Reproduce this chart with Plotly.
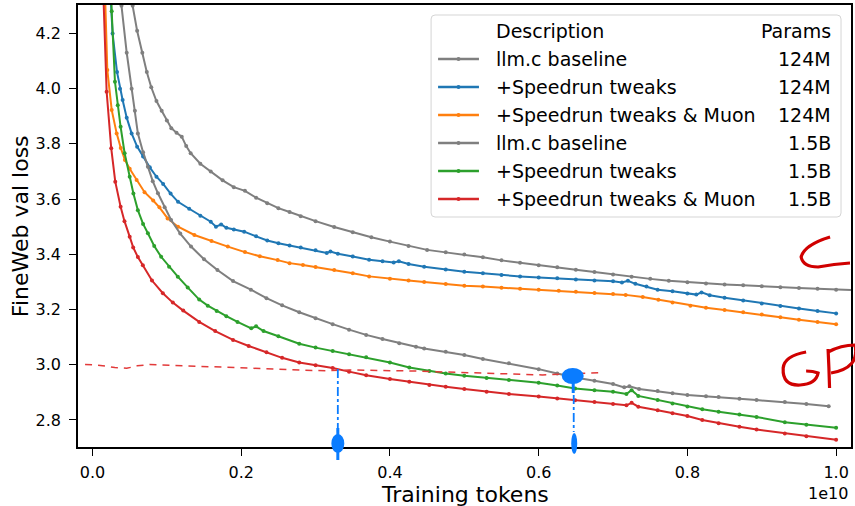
import plotly.graph_objects as go

# ---------------- data (x in units of 1e10 training tokens) ----------------
gray124_x = [0.046, 0.054, 0.060, 0.067, 0.073, 0.079, 0.086, 0.093, 0.100, 0.106, 0.113, 0.120, 0.126, 0.132,
             0.145, 0.159, 0.175, 0.190, 0.205, 0.220, 0.235, 0.250, 0.265, 0.280, 0.300, 0.325, 0.350, 0.375,
             0.400, 0.425, 0.450, 0.475, 0.500, 0.525, 0.550, 0.575, 0.600, 0.625, 0.650, 0.675, 0.700, 0.725,
             0.750, 0.775, 0.800, 0.825, 0.850, 0.875, 0.900, 0.925, 0.950, 0.975, 1.000, 1.025]
gray124_y = [4.50, 4.30, 4.21, 4.13, 4.06, 4.005, 3.955, 3.92, 3.885, 3.857, 3.840, 3.826, 3.792, 3.766,
             3.728, 3.70, 3.668, 3.643, 3.63, 3.605, 3.585, 3.567, 3.553, 3.538, 3.52, 3.499, 3.48, 3.462,
             3.446, 3.43, 3.416, 3.407, 3.399, 3.389, 3.378, 3.369, 3.36, 3.353, 3.344, 3.336, 3.327, 3.319,
             3.311, 3.304, 3.299, 3.294, 3.291, 3.288, 3.284, 3.281, 3.278, 3.275, 3.272, 3.27]

blue124_x = [0.022, 0.027, 0.033, 0.037, 0.0405, 0.046, 0.0526, 0.060, 0.068, 0.077, 0.086, 0.095, 0.105, 0.115,
             0.130, 0.145, 0.159, 0.166, 0.173, 0.180, 0.190, 0.204, 0.220, 0.235, 0.250, 0.265, 0.280, 0.300,
             0.315, 0.320, 0.330, 0.350, 0.372, 0.390, 0.405, 0.412, 0.425, 0.446, 0.475, 0.500, 0.525, 0.550,
             0.575, 0.600, 0.625, 0.650, 0.675, 0.700, 0.712, 0.720, 0.730, 0.745, 0.760, 0.780, 0.800, 0.812,
             0.819, 0.830, 0.850, 0.875, 0.900, 0.925, 0.950, 0.975, 1.000]
blue124_y = [4.45, 4.20, 4.06, 4.00, 3.959, 3.895, 3.838, 3.79, 3.754, 3.715, 3.681, 3.655, 3.62, 3.59,
             3.565, 3.54, 3.518, 3.50, 3.508, 3.496, 3.49, 3.482, 3.465, 3.45, 3.44, 3.432, 3.425, 3.415,
             3.405, 3.41, 3.402, 3.392, 3.38, 3.375, 3.37, 3.375, 3.365, 3.355, 3.345, 3.337, 3.331, 3.325,
             3.32, 3.316, 3.313, 3.309, 3.305, 3.302, 3.298, 3.304, 3.293, 3.283, 3.272, 3.266, 3.258, 3.254,
             3.262, 3.252, 3.243, 3.233, 3.222, 3.213, 3.204, 3.195, 3.186]

orange124_x = [0.014, 0.0199, 0.0258, 0.0325, 0.038, 0.0436, 0.050, 0.0593, 0.070, 0.0816, 0.090, 0.101, 0.115,
               0.137, 0.160, 0.182, 0.205, 0.225, 0.249, 0.265, 0.283, 0.300, 0.325, 0.350, 0.372, 0.400, 0.425,
               0.446, 0.475, 0.500, 0.525, 0.550, 0.575, 0.600, 0.627, 0.650, 0.675, 0.700, 0.717, 0.740, 0.761,
               0.780, 0.804, 0.825, 0.850, 0.875, 0.900, 0.925, 0.950, 0.975, 1.000]
orange124_y = [4.60, 4.068, 3.923, 3.838, 3.785, 3.742, 3.71, 3.669, 3.625, 3.595, 3.57, 3.53, 3.50,
               3.47, 3.448, 3.428, 3.408, 3.393, 3.379, 3.368, 3.361, 3.354, 3.343, 3.331, 3.32, 3.311, 3.305,
               3.30, 3.292, 3.286, 3.283, 3.279, 3.275, 3.272, 3.268, 3.264, 3.26, 3.256, 3.253, 3.245, 3.235,
               3.225, 3.214, 3.206, 3.198, 3.19, 3.182, 3.172, 3.163, 3.155, 3.147]

gray15_x = [0.033, 0.039, 0.046, 0.0526, 0.057, 0.061, 0.068, 0.0745, 0.081, 0.088, 0.097, 0.1057, 0.118, 0.1325,
            0.150, 0.168, 0.189, 0.213, 0.234, 0.255, 0.278, 0.300, 0.323, 0.345, 0.368, 0.390, 0.4125, 0.435,
            0.446, 0.475, 0.500, 0.525, 0.560, 0.600, 0.625, 0.649, 0.675, 0.700, 0.715, 0.722, 0.735, 0.760,
            0.780, 0.800, 0.825, 0.842, 0.870, 0.893, 0.931, 0.960, 0.990]
gray15_y = [4.60, 4.30, 4.13, 4.00, 3.92, 3.838, 3.77, 3.717, 3.665, 3.621, 3.57, 3.524, 3.475, 3.428,
            3.382, 3.343, 3.303, 3.272, 3.241, 3.215, 3.19, 3.168, 3.147, 3.127, 3.108, 3.093, 3.078, 3.065,
            3.059, 3.047, 3.035, 3.021, 3.005, 2.984, 2.968, 2.954, 2.942, 2.93, 2.918, 2.922, 2.912, 2.905,
            2.897, 2.89, 2.886, 2.883, 2.877, 2.872, 2.865, 2.858, 2.85]

green15_x = [0.021, 0.0258, 0.0302, 0.034, 0.0378, 0.0432, 0.050, 0.055, 0.061, 0.068, 0.0745, 0.083, 0.0923,
             0.103, 0.1147, 0.128, 0.1435, 0.155, 0.167, 0.180, 0.195, 0.2135, 0.220, 0.230, 0.250, 0.278,
             0.300, 0.323, 0.345, 0.368, 0.400, 0.426, 0.453, 0.475, 0.500, 0.530, 0.560, 0.600, 0.625, 0.649,
             0.675, 0.700, 0.718, 0.725, 0.734, 0.760, 0.780, 0.800, 0.820, 0.842, 0.870, 0.893, 0.931, 0.960,
             1.000]
green15_y = [4.70, 4.28, 4.025, 3.94, 3.862, 3.766, 3.681, 3.62, 3.56, 3.51, 3.476, 3.43, 3.391,
             3.355, 3.319, 3.28, 3.236, 3.214, 3.195, 3.176, 3.155, 3.132, 3.139, 3.122, 3.103, 3.076,
             3.062, 3.05, 3.038, 3.027, 3.008, 2.99, 2.977, 2.968, 2.96, 2.952, 2.945, 2.935, 2.925, 2.914,
             2.908, 2.902, 2.894, 2.908, 2.887, 2.872, 2.86, 2.849, 2.839, 2.83, 2.82, 2.811, 2.792, 2.783,
             2.772]

red15_x = [0.0095, 0.019, 0.0252, 0.0306, 0.0378, 0.043, 0.050, 0.0547, 0.061, 0.0677, 0.080, 0.0946, 0.108,
           0.122, 0.1435, 0.165, 0.189, 0.210, 0.234, 0.255, 0.278, 0.300, 0.323, 0.345, 0.368, 0.400, 0.426,
           0.453, 0.475, 0.500, 0.530, 0.560, 0.600, 0.625, 0.649, 0.675, 0.700, 0.718, 0.725, 0.734, 0.760,
           0.780, 0.800, 0.820, 0.842, 0.870, 0.893, 0.931, 0.960, 1.000]
red15_y = [4.75, 3.989, 3.784, 3.663, 3.572, 3.52, 3.464, 3.425, 3.39, 3.36, 3.305, 3.259, 3.225,
           3.196, 3.155, 3.122, 3.09, 3.068, 3.045, 3.025, 3.008, 2.998, 2.988, 2.975, 2.962, 2.948, 2.938,
           2.927, 2.92, 2.912, 2.902, 2.894, 2.885, 2.878, 2.871, 2.865, 2.858, 2.853, 2.862, 2.848, 2.835,
           2.824, 2.814, 2.8, 2.788, 2.775, 2.765, 2.751, 2.741, 2.728]

descriptions = ["llm.c baseline", "+Speedrun tweaks", "+Speedrun tweaks & Muon",
                "llm.c baseline", "+Speedrun tweaks", "+Speedrun tweaks & Muon"]
params = ["124M", "124M", "124M", "1.5B", "1.5B", "1.5B"]
colors = ["#7f7f7f", "#1f77b4", "#ff7f0e", "#7f7f7f", "#2ca02c", "#d62728"]
series_x = [gray124_x, blue124_x, orange124_x, gray15_x, green15_x, red15_x]
series_y = [gray124_y, blue124_y, orange124_y, gray15_y, green15_y, red15_y]

x_ticks = [0.0, 0.2, 0.4, 0.6, 0.8, 1.0]
x_ticktext = ["0.0", "0.2", "0.4", "0.6", "0.8", "1.0"]
y_ticks = [2.8, 3.0, 3.2, 3.4, 3.6, 3.8, 4.0, 4.2]
y_ticktext = ["2.8", "3.0", "3.2", "3.4", "3.6", "3.8", "4.0", "4.2"]

# hand-drawn red dashed guide line (data units)
guide_x = [-0.010, 0.006, 0.03, 0.046, 0.06, 0.077, 0.126, 0.18, 0.23, 0.278, 0.314, 0.345, 0.435, 0.515, 0.605, 0.68]
guide_y = [3.001, 2.999, 2.99, 2.987, 2.996, 3.001, 2.996, 2.99, 2.985, 2.981, 2.978, 2.981, 2.977, 2.971, 2.963, 2.971]

# ---------------- layout geometry ----------------
W, H = 855, 506
ML, MR, MT, MB = 78, 2, 5, 59
PW, PH = W - ML - MR, H - MT - MB
FONT = "DejaVu Sans"


def px(xp):
    return (xp - ML) / PW


def py(yp):
    return (H - MB - yp) / PH


fig = go.Figure()

for xs, ys, c, d, p in zip(series_x, series_y, colors, descriptions, params):
    fig.add_trace(go.Scatter(x=xs, y=ys, mode="lines+markers", name=f"{d} {p}",
                             line=dict(color=c, width=2),
                             marker=dict(color=c, size=4), showlegend=False))

fig.add_trace(go.Scatter(x=guide_x, y=guide_y, mode="lines", showlegend=False,
                         line=dict(color="#e23a3a", width=1.5, dash="7px,6px")))

shapes = []
annotations = []

# ---- custom legend ----
bx0, by0, bx1, by1, r = 432, 15, 843, 217, 4
path = (f"M {px(bx0 + r)},{py(by0)} L {px(bx1 - r)},{py(by0)} Q {px(bx1)},{py(by0)} {px(bx1)},{py(by0 + r)} "
        f"L {px(bx1)},{py(by1 - r)} Q {px(bx1)},{py(by1)} {px(bx1 - r)},{py(by1)} "
        f"L {px(bx0 + r)},{py(by1)} Q {px(bx0)},{py(by1)} {px(bx0)},{py(by1 - r)} "
        f"L {px(bx0)},{py(by0 + r)} Q {px(bx0)},{py(by0)} {px(bx0 + r)},{py(by0)} Z")
shapes.append(dict(type="path", xref="paper", yref="paper", path=path,
                   line=dict(color="#d5d5d5", width=1), fillcolor="rgba(255,255,255,0.8)", layer="above"))

row0 = 31
rowstep = 28
annotations.append(dict(x=px(495.5), y=py(row0), xref="paper", yref="paper", text="Description",
                        showarrow=False, xanchor="left", yanchor="middle",
                        font=dict(family=FONT, size=19, color="#000")))
annotations.append(dict(x=px(834.5), y=py(row0), xref="paper", yref="paper", text="Params",
                        showarrow=False, xanchor="right", yanchor="middle",
                        font=dict(family=FONT, size=19, color="#000")))
for i, (d, p, c) in enumerate(zip(descriptions, params, colors)):
    yy = row0 + rowstep * (i + 1)
    shapes.append(dict(type="line", xref="paper", yref="paper", x0=px(439), x1=px(480), y0=py(yy), y1=py(yy),
                       line=dict(color=c, width=2.6), layer="above"))
    shapes.append(dict(type="circle", xref="paper", yref="paper", x0=px(457.5), x1=px(461.5),
                       y0=py(yy - 2), y1=py(yy + 2), line=dict(width=0), fillcolor=c, layer="above"))
    annotations.append(dict(x=px(495.5), y=py(yy), xref="paper", yref="paper", text=d,
                            showarrow=False, xanchor="left", yanchor="middle",
                            font=dict(family=FONT, size=19, color="#000")))
    annotations.append(dict(x=px(834.5), y=py(yy), xref="paper", yref="paper", text=p,
                            showarrow=False, xanchor="right", yanchor="middle",
                            font=dict(family=FONT, size=19, color="#000")))

# ---- hand-drawn blue marks ----
BLUE = "#0a7cff"
shapes.append(dict(type="line", xref="paper", yref="paper", x0=px(338.5), x1=px(338.5), y0=py(369), y1=py(432),
                   line=dict(color=BLUE, width=1.8, dash="dashdot"), layer="above"))
shapes.append(dict(type="circle", xref="paper", yref="paper", x0=px(332), x1=px(345), y0=py(453), y1=py(434),
                   line=dict(width=0), fillcolor=BLUE, layer="above"))
shapes.append(dict(type="line", xref="paper", yref="paper", x0=px(338.5), x1=px(338.5), y0=py(428), y1=py(460),
                   line=dict(color=BLUE, width=3), layer="above"))
shapes.append(dict(type="circle", xref="paper", yref="paper", x0=px(563), x1=px(585), y0=py(384), y1=py(368),
                   line=dict(width=0), fillcolor=BLUE, layer="above"))
shapes.append(dict(type="line", xref="paper", yref="paper", x0=px(574.5), x1=px(574.5), y0=py(380), y1=py(393),
                   line=dict(color=BLUE, width=3), layer="above"))
shapes.append(dict(type="line", xref="paper", yref="paper", x0=px(575), x1=px(575), y0=py(395), y1=py(432),
                   line=dict(color=BLUE, width=1.8, dash="dashdot"), layer="above"))
shapes.append(dict(type="circle", xref="paper", yref="paper", x0=px(572.5), x1=px(578.5), y0=py(454), y1=py(433),
                   line=dict(width=0), fillcolor=BLUE, layer="above"))

# ---- hand-drawn red letters ----
RED = "#d00000"


def hand_path(pts):
    s = f"M {px(pts[0][0])},{py(pts[0][1])}"
    for (ax, ay), (bx, by) in zip(pts[1::2], pts[2::2]):
        s += f" Q {px(ax)},{py(ay)} {px(bx)},{py(by)}"
    return s


g_top = [(832, 237), (806, 245), (803, 257), (805, 267), (820, 267), (836, 264), (852, 263)]
g_low = [(808, 352), (786, 356), (785, 368), (784, 386), (802, 385), (818, 384), (820, 373), (815, 371), (808, 371)]
p_stem = [(830, 349), (831, 368), (831.5, 388)]
p_bowl = [(830, 352), (843, 345), (857, 345), (862, 368), (833, 373)]
for pts in (g_top, g_low, p_stem, p_bowl):
    shapes.append(dict(type="path", xref="paper", yref="paper", path=hand_path(pts),
                       line=dict(color=RED, width=3.2), layer="above"))

# ---- axis titles / offset text ----
annotations.append(dict(x=px(465.5), y=py(494), xref="paper", yref="paper", text="Training tokens",
                        showarrow=False, xanchor="center", yanchor="middle",
                        font=dict(family=FONT, size=22, color="#000")))
annotations.append(dict(x=px(20), y=py(226), xref="paper", yref="paper", text="FineWeb val loss",
                        showarrow=False, xanchor="center", yanchor="middle", textangle=-90,
                        font=dict(family=FONT, size=22, color="#000")))
annotations.append(dict(x=px(852), y=py(493), xref="paper", yref="paper", text="1e10",
                        showarrow=False, xanchor="right", yanchor="middle",
                        font=dict(family=FONT, size=16, color="#000")))

fig.update_layout(
    width=W, height=H, margin=dict(l=ML, r=MR, t=MT, b=MB, pad=0),
    paper_bgcolor="white", plot_bgcolor="white",
    shapes=shapes, annotations=annotations, showlegend=False,
    font=dict(family=FONT, size=16, color="#000"),
)
fig.update_xaxes(range=[-0.0195, 1.020], tickvals=x_ticks, ticktext=x_ticktext, showgrid=False, zeroline=False,
                 showline=True, linecolor="#000", linewidth=1.6, mirror=True, ticks="outside", ticklen=7,
                 tickwidth=1.4, tickcolor="#000", tickfont=dict(family=FONT, size=16, color="#000"),
                 ticklabelstandoff=3)
fig.update_yaxes(range=[2.702, 4.303], tickvals=y_ticks, ticktext=y_ticktext, showgrid=False, zeroline=False,
                 showline=True, linecolor="#000", linewidth=1.6, mirror=True, ticks="outside", ticklen=7,
                 tickwidth=1.4, tickcolor="#000", tickfont=dict(family=FONT, size=16, color="#000"),
                 ticklabelstandoff=5)

fig.write_html("out.html")
